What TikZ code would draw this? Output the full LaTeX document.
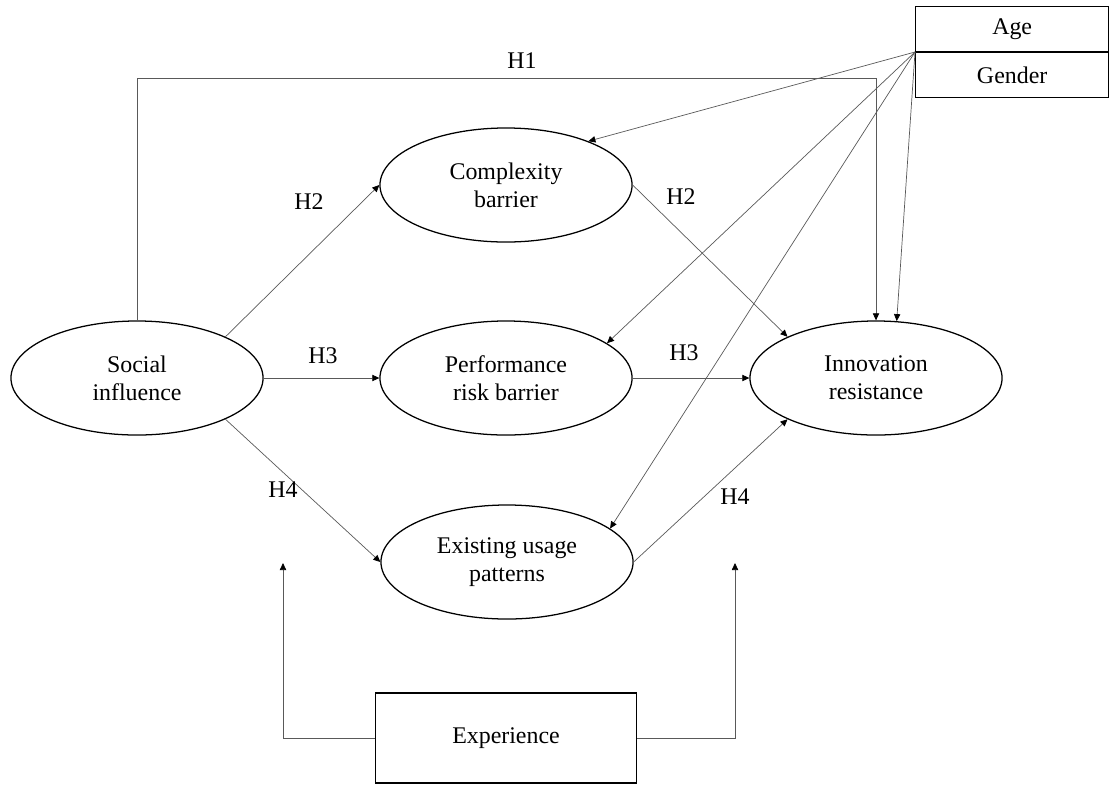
\documentclass[tikz,border=0pt]{standalone}
\usepackage{fontspec}
\setmainfont{Liberation Serif}
\usetikzlibrary{arrows.meta,positioning,shapes.geometric}
\tikzset{
  latent/.style={ellipse, draw, line width=0.9pt, minimum width=6.3cm, minimum height=2.85cm, align=center, inner sep=0pt},
  observed/.style={rectangle, draw, line width=0.9pt, align=center, inner sep=0pt},
  link/.style={draw=black!65, line width=0.5pt, -{Triangle[length=5pt,width=4.5pt,color=black]}},
  hyp/.style={inner sep=1pt},
}

\begin{document}
\begin{tikzpicture}[x=0.025cm, y=-0.025cm, font=\fontsize{17pt}{20pt}\selectfont]
  \useasboundingbox (0,0) rectangle (1110,784);
  % constructs
  \node[latent] (soc) at (137,378) {Social\\influence};
  \node[latent] (cplx) at (506,185) {Complexity\\barrier};
  \node[latent] (perf) at (506,378) {Performance\\risk barrier};
  \node[latent] (exist) at (507,562) {Existing usage\\patterns};
  \node[latent] (innov) at (876,378) {Innovation\\resistance};
  % moderators
  \node[observed, minimum width=4.825cm, minimum height=1.125cm, anchor=south west] (age) at (915,52) {Age};
  \node[observed, minimum width=4.825cm, minimum height=1.125cm, anchor=north west] (gender) at (915,52) {Gender};
  \node[observed, minimum width=6.525cm, minimum height=2.25cm] (exper) at (506,738) {Experience};
  \coordinate (h1y) at (0,78);
  \coordinate (expl) at (283,563);
  \coordinate (expr) at (735,563);

  % hypotheses
  \draw[link] (soc.north) -- (soc.north |- h1y) -| (innov.north);
  \draw[link] (soc.25) -- (cplx.west);
  \draw[link] (soc.east) -- (perf.west);
  \draw[link] (soc.-25) -- (exist.west);
  \draw[link] (cplx.east) -- (innov.155);
  \draw[link] (perf.east) -- (innov.west);
  \draw[link] (exist.east) -- (innov.205);
  \draw[link] (gender.north west) -- (cplx.28);
  \draw[link] (gender.north west) -- (perf.19);
  \draw[link] (gender.north west) -- (exist.18);
  \draw[link] (gender.north west) -- (innov.70);
  \draw[link] (exper.west) -| (expl);
  \draw[link] (exper.east) -| (expr);

  \node[hyp] (h1) at (522,61) {H1};
  \node[hyp] (h2a) at (309,202) {H2};
  \node[hyp] (h2b) at (681,197) {H2};
  \node[hyp] (h3a) at (323,356) {H3};
  \node[hyp] (h3b) at (684,353) {H3};
  \node[hyp] (h4a) at (283,490) {H4};
  \node[hyp] (h4b) at (735,497) {H4};
\end{tikzpicture}
\end{document}
